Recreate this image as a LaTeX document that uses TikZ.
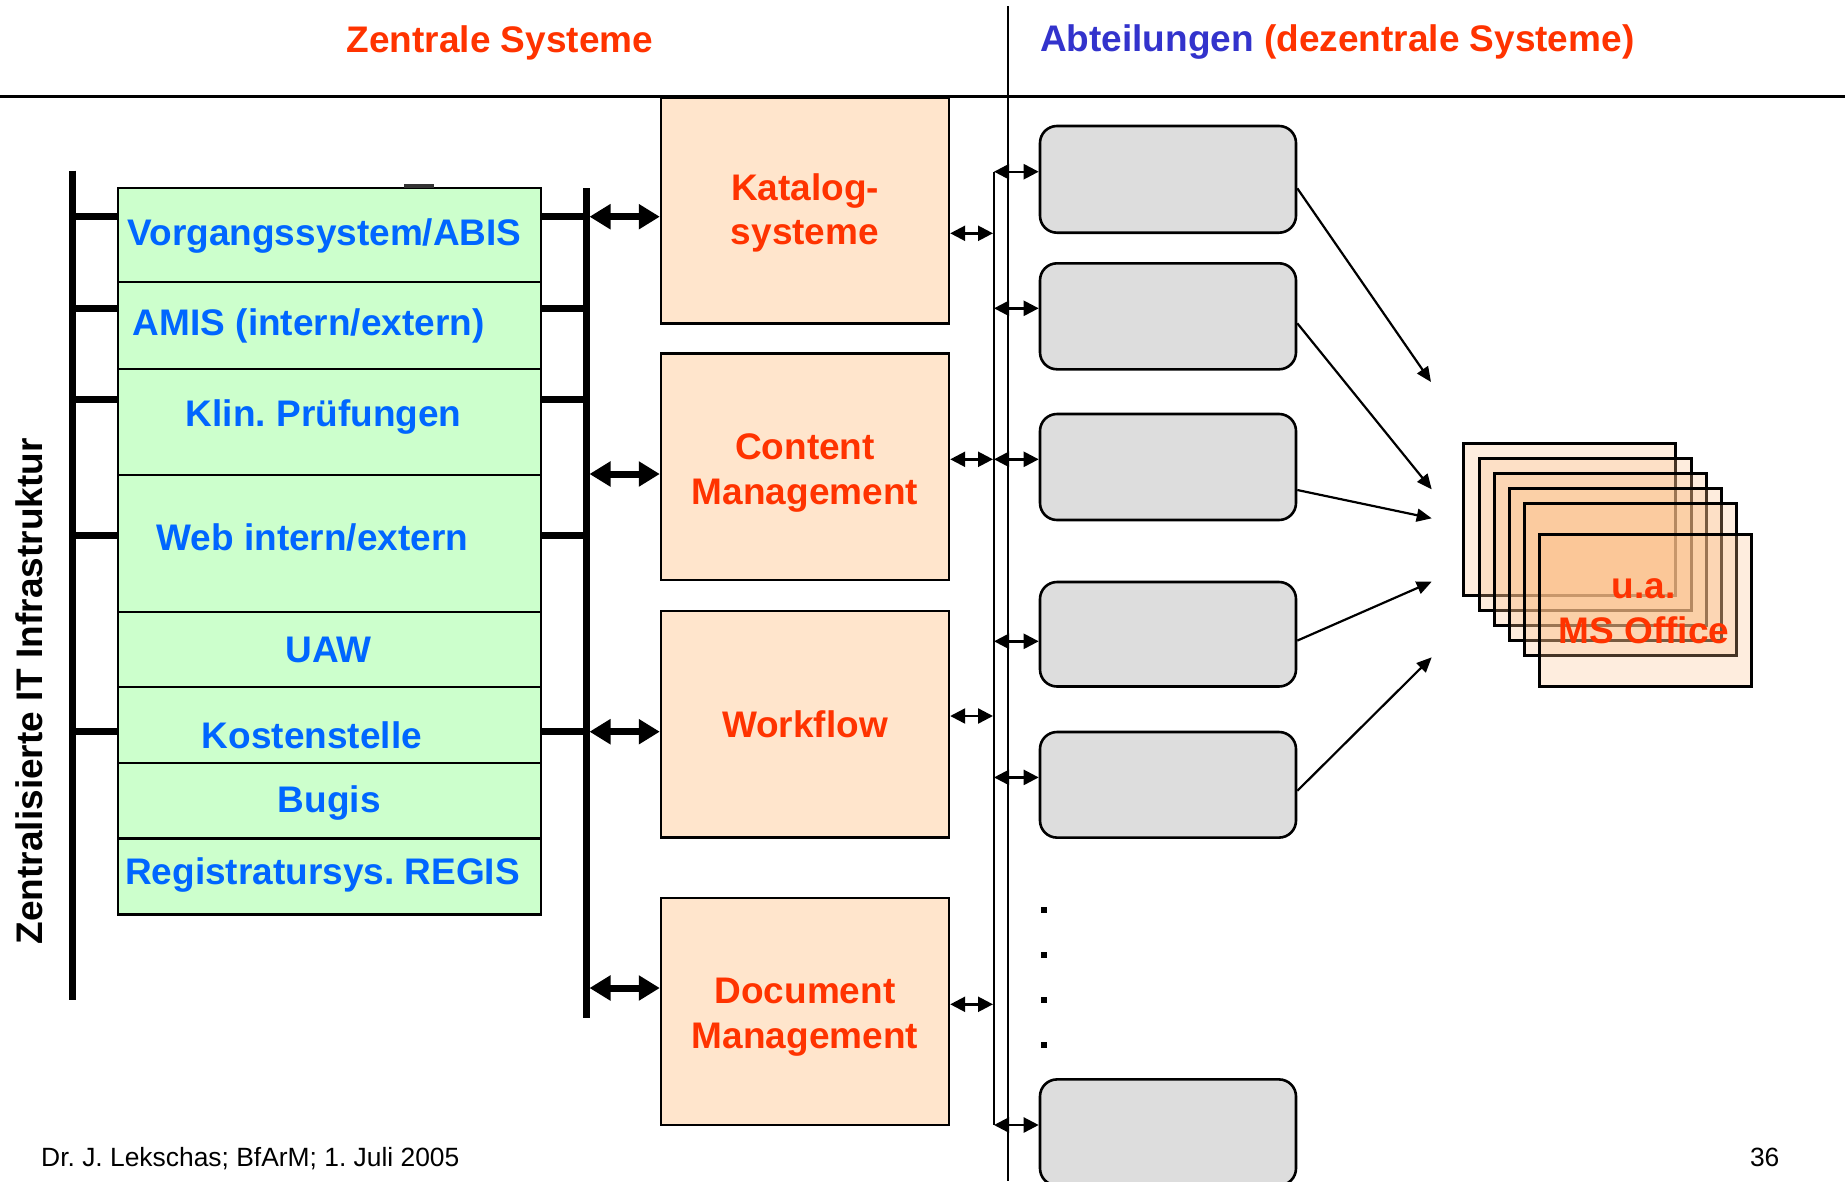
\documentclass[tikz,border=0pt]{standalone}
\usepackage{fontspec}
\setmainfont{Liberation Sans}
\usetikzlibrary{arrows.meta,calc}

\definecolor{rowgreen}{RGB}{204,255,204}
\definecolor{rowblue}{RGB}{0,102,255}
\definecolor{peach}{RGB}{255,229,204}
\definecolor{hotred}{RGB}{255,51,0}
\definecolor{deptblue}{RGB}{51,51,204}
\definecolor{boxgray}{RGB}{221,221,221}
\definecolor{stackfill}{RGB}{250,190,135}

\newcommand\bigfont{\fontsize{37}{44}\selectfont\bfseries}
\newcommand\footfont{\fontsize{26.4}{30}\selectfont}
\frenchspacing

\tikzset{
  row/.style={draw, fill=rowgreen, line width=2.4, minimum width=423, inner sep=0, anchor=north west},
  gtxt/.style={font=\bigfont, text=rowblue, anchor=base, inner sep=0},
  otxt/.style={font=\bigfont, text=hotred, anchor=base, inner sep=0},
  obox/.style={draw, fill=peach, line width=2.4, minimum width=288, inner sep=0},
  gbox/.style={draw, fill=boxgray, rounded corners=17, line width=2.6, minimum width=256, inner sep=0},
  stackbox/.style={draw, line width=3, fill=stackfill, fill opacity=0.28, minimum width=212, minimum height=152, inner sep=0, anchor=north west},
  bar/.style={line width=7},
  bigdbl/.style={line width=7, {Triangle[length=21pt,width=24pt]}-{Triangle[length=21pt,width=24pt]}},
  smalldbl/.style={line width=2.4, {Triangle[length=15pt,width=15pt]}-{Triangle[length=15pt,width=15pt]}},
  oneway/.style={line width=2.2, -{Triangle[length=15pt,width=13pt]}},
  dotmark/.style={fill=black, minimum size=6, inner sep=0},
  foot/.style={font=\footfont, inner sep=0},
}

\begin{document}
\begin{tikzpicture}[x=1pt, y=-1pt]
\useasboundingbox (0,0) rectangle (1845,1181);
\clip (0,0) rectangle (1845,1181);

% headings and frame lines
\node[otxt] (titleL) at (500,52) {Zentrale Systeme};
\node[font=\bigfont, anchor=base west, inner sep=0] (titleR) at (1040,51.5)
  {\textcolor{deptblue}{Abteilungen} \textcolor{hotred}{(dezentrale Systeme)}};
\draw[line width=2.5] (0,96.5) -- (1845,96.5);
\draw[line width=2] (1008,6) -- (1008,1181);

% infrastructure bus bars
\coordinate (lbarT) at (72,170.7);
\coordinate (lbarB) at (72,1000);
\coordinate (rbarT) at (586,188);
\coordinate (rbarB) at (586,1018);
\draw[bar] (lbarT) -- (lbarB);
\draw[bar] (rbarT) -- (rbarB);

\node[font=\bigfont, rotate=90, anchor=base, inner sep=0] (infra) at (42.4,691.3)
  {Zentralisierte IT Infrastruktur};

% central systems table
\node[row, minimum height=94.3] (r1) at (117,186.7) {};
\node[row, minimum height=87]   (r2) at (117,281) {};
\node[row, minimum height=106]  (r3) at (117,368) {};
\node[row, minimum height=136.7] (r4) at (117,474) {};
\node[row, minimum height=75.3] (r5) at (117,610.7) {};
\node[row, minimum height=75.7] (r6) at (117,686) {};
\node[row, minimum height=75.6] (r7) at (117,761.7) {};
\node[row, minimum height=76]   (r8) at (117,837.3) {};
\draw[line width=4, draw=black!80] (404,186) -- (434,186);

\node[gtxt] (t1) at (324.6,245)   {Vorgangssystem/ABIS};
\node[gtxt] (t2) at (308.7,335.2) {AMIS (intern/extern)};
\node[gtxt] (t3) at (323.7,426.2) {Klin. Prüfungen};
\node[gtxt] (t4) at (312.4,550.2) {Web intern/extern};
\node[gtxt] (t5) at (328.6,662)   {UAW};
\node[gtxt] (t6) at (311.9,748.2) {Kostenstelle};
\node[gtxt] (t7) at (329.2,812.7) {Bugis};
\node[gtxt] (t8) at (322.6,884)   {Registratursys. REGIS};

% stubs between the bus bars and the table
\foreach \yy [count=\i] in {216.7,308,399,535,731.7} {
  \coordinate (k\i) at (72,\yy);
  \draw[bar] (k\i) -- (k\i -| r1.west);
  \draw[bar] (k\i -| r1.east) -- (k\i -| rbarT);
}

% application blocks
\node[obox, minimum height=226]   (kat) at (805,210.3)  {};
\node[obox, minimum height=226.7] (cms) at (805,466.65) {};
\node[obox, minimum height=226.9] (wfl) at (805,724.15) {};
\node[obox, minimum height=227]   (dms) at (805,1011.5) {};

\node[otxt] (kat1) at (805,200.7)  {Katalog-};
\node[otxt] (kat2) at (805,244.9)  {systeme};
\node[otxt] (cms1) at (805,459)    {Content};
\node[otxt] (cms2) at (805,504)    {Management};
\node[otxt] (wfl1) at (805,737.9)  {Workflow};
\node[otxt] (dms1) at (805,1003.2) {Document};
\node[otxt] (dms2) at (805,1048.7) {Management};

% bus to application blocks
\coordinate (a1) at (589.5,216.7);
\coordinate (a2) at (589.5,474);
\coordinate (a3) at (589.5,731.7);
\coordinate (a4) at (589.5,988);
\draw[bigdbl] (a1) -- (a1 -| kat.west);
\draw[bigdbl] (a2) -- (a2 -| cms.west);
\draw[bigdbl] (a3) -- (a3 -| wfl.west);
\draw[bigdbl] (a4) -- (a4 -| dms.west);

% department boxes
\node[gbox, minimum height=106.7] (g1) at (1168,179.35) {};
\node[gbox, minimum height=106]   (g2) at (1168,316.3)  {};
\node[gbox, minimum height=106]   (g3) at (1168,467)    {};
\node[gbox, minimum height=104.5] (g4) at (1168,634.25) {};
\node[gbox, minimum height=105.6] (g5) at (1168,784.8)  {};
\node[gbox, minimum height=106]   (g6) at (1168,1132.4) {};

% department bus
\coordinate (b1) at (994,171.7);
\coordinate (b2) at (994,308.3);
\coordinate (b3) at (994,459.3);
\coordinate (b4) at (994,641.3);
\coordinate (b5) at (994,777.4);
\coordinate (b6) at (994,1125);
\draw[line width=2] (b1) -- (b6);

\coordinate (s1) at (993,233.3);
\coordinate (s2) at (993,459.3);
\coordinate (s3) at (993,716);
\coordinate (s4) at (993,1004.3);
\draw[smalldbl] (s1 -| kat.east) -- (s1);
\draw[smalldbl] (s2 -| cms.east) -- (s2);
\draw[smalldbl] (s3 -| wfl.east) -- (s3);
\draw[smalldbl] (s4 -| dms.east) -- (s4);

\draw[smalldbl] (b1) -- (b1 -| g1.west);
\draw[smalldbl] (b2) -- (b2 -| g2.west);
\draw[smalldbl] (b3) -- (b3 -| g3.west);
\draw[smalldbl] (b4) -- (b4 -| g4.west);
\draw[smalldbl] (b5) -- (b5 -| g5.west);
\draw[smalldbl] (b6) -- (b6 -| g6.west);

% further departments
\node[dotmark] (d1) at (1044,910.4) {};
\node[dotmark] (d2) at (1044,954.8) {};
\node[dotmark] (d3) at (1044,999.7) {};
\node[dotmark] (d4) at (1044,1044.5) {};

% office documents stack
\node[stackbox] (m1) at (1462.3,441.7) {};
\node[stackbox] (m2) at (1477.5,456.7) {};
\node[stackbox] (m3) at (1492.5,471.7) {};
\node[stackbox] (m4) at (1507.7,486.7) {};
\node[stackbox] (m5) at (1523,501.7) {};
\node[stackbox] (m6) at (1538,532.7) {};
\node[otxt] (ms1) at (1643.5,598.3) {u.a.};
\node[otxt] (ms2) at (1644,643.3)   {MS Office};

\coordinate (o1) at (1431,382);
\coordinate (o2) at (1431.7,489.3);
\coordinate (o3) at (1431.7,518.3);
\coordinate (o4) at (1431.7,581.7);
\coordinate (o5) at (1431.7,657.3);
\draw[oneway] ($(g1.east)+(0,9)$)    -- (o1);
\draw[oneway] ($(g2.east)+(0,7)$)    -- (o2);
\draw[oneway] ($(g3.east)+(0,23)$)   -- (o3);
\draw[oneway] ($(g4.east)+(0,6.35)$) -- (o4);
\draw[oneway] ($(g5.east)+(0,6)$)    -- (o5);

% footer
\node[foot, anchor=base west] (author) at (41,1166.7) {Dr. J. Lekschas; BfArM; 1. Juli 2005};
\node[foot, anchor=base] (pageno) at (1764.7,1166.7) {36};
\end{tikzpicture}
\end{document}
